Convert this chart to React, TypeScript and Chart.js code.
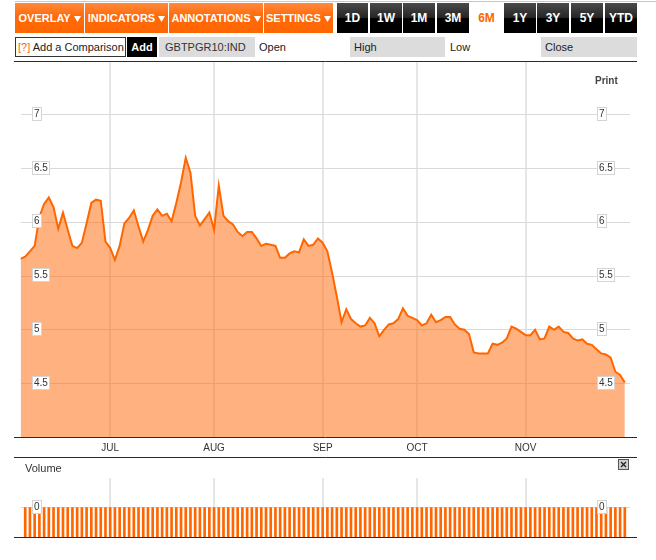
import React, { useEffect, useRef } from "react";
import { Chart, registerables } from "chart.js";

Chart.register(...registerables);

// ---- data ----
const yields: number[] = [
  5.66, 5.68, 5.73, 5.78, 6.05, 6.17, 6.23, 6.14, 5.94, 6.09,
  5.93, 5.78, 5.76, 5.81, 5.99, 6.18, 6.21, 6.2, 5.82, 5.76,
  5.65, 5.78, 5.99, 6.04, 6.11, 5.96, 5.82, 5.93, 6.06, 6.12,
  6.06, 6.08, 6.01, 6.18, 6.37, 6.6, 6.46, 6.06, 5.97, 6.03,
  6.09, 5.93, 6.34, 6.06, 6.01, 5.98, 5.91, 5.87, 5.91, 5.91,
  5.85, 5.78, 5.8, 5.79, 5.78, 5.67, 5.67, 5.71, 5.73, 5.72,
  5.84, 5.78, 5.79, 5.85, 5.81, 5.73, 5.53, 5.31, 5.07, 5.19,
  5.1, 5.06, 5.03, 5.04, 5.11, 5.06, 4.94, 5.0, 5.05, 5.06,
  5.1, 5.2, 5.13, 5.11, 5.09, 5.04, 5.06, 5.14, 5.07, 5.09,
  5.12, 5.12, 5.05, 5.01, 5.0, 4.96, 4.79, 4.78, 4.78, 4.78,
  4.87, 4.86, 4.88, 4.92, 5.03, 5.01, 4.98, 4.95, 4.95, 5.0,
  4.91, 4.92, 5.03, 5.0, 5.03, 4.98, 4.97, 4.92, 4.9, 4.91,
  4.87, 4.86, 4.82, 4.78, 4.77, 4.74, 4.61, 4.58, 4.51,
];

const volumes: (number | null)[] = [
  null, 0, 0, 0, 0, 0, 0, 0, 0, 0,
  0, 0, 0, 0, 0, 0, 0, 0, 0, 0,
  0, 0, 0, 0, 0, 0, 0, 0, 0, 0,
  0, 0, 0, 0, 0, 0, 0, 0, 0, 0,
  0, 0, 0, 0, 0, 0, 0, 0, 0, 0,
  0, 0, 0, 0, 0, 0, 0, 0, 0, 0,
  0, 0, 0, 0, 0, 0, 0, 0, 0, 0,
  0, 0, 0, 0, 0, 0, 0, 0, 0, 0,
  0, 0, 0, 0, 0, 0, 0, 0, 0, 0,
  0, 0, 0, 0, 0, 0, 0, 0, 0, 0,
  0, 0, 0, 0, 0, 0, 0, 0, 0, 0,
  0, 0, 0, 0, 0, 0, 0, 0, 0, 0,
  0, 0, 0, 0, 0, 0, 0, 0, 0,
];

const monthLabels: string[] = ["JUL", "AUG", "SEP", "OCT", "NOV"];
const monthStarts: number[] = [19, 41, 64, 84, 107];
const yTicks: number[] = [4.5, 5, 5.5, 6, 6.5, 7];
const volumeTicks: number[] = [0];

const FONT = '"Liberation Sans", Arial, Helvetica, sans-serif';
const ORANGE = "#ff6600";

const menuButtons = [
  { t: "OVERLAY", x: 15, w: 69 },
  { t: "INDICATORS", x: 85, w: 83 },
  { t: "ANNOTATIONS", x: 169, w: 94 },
  { t: "SETTINGS", x: 264, w: 69 },
];
const rangeButtons = [
  { t: "1D", x: 337, w: 31 },
  { t: "1W", x: 370, w: 32 },
  { t: "1M", x: 403, w: 32 },
  { t: "3M", x: 437, w: 32 },
  { t: "6M", x: 469, w: 35, active: true },
  { t: "1Y", x: 504, w: 32 },
  { t: "3Y", x: 537, w: 32 },
  { t: "5Y", x: 571, w: 32 },
  { t: "YTD", x: 605, w: 32 },
];

function boxLabelPlugin(id: string, values: number[]) {
  return {
    id,
    afterDatasetsDraw(chart: any) {
      const ctx = chart.ctx;
      const s = chart.scales.y;
      ctx.save();
      ctx.font = `10px ${FONT}`;
      ctx.textBaseline = "middle";
      ctx.textAlign = "left";
      for (const v of values) {
        const y = Math.round(s.getPixelForValue(v));
        const t = String(v);
        const w = Math.round(ctx.measureText(t).width + 4);
        for (const x0 of [18, 583]) {
          ctx.fillStyle = "#ffffff";
          ctx.fillRect(x0, y - 8, w, 14);
          ctx.strokeStyle = "#d4d4d4";
          ctx.lineWidth = 1;
          ctx.strokeRect(x0 + 0.5, y - 7.5, w - 1, 13);
          ctx.fillStyle = "#333333";
          ctx.fillText(t, x0 + 2, y - 1);
        }
      }
      ctx.restore();
    },
  };
}

function framePlugin(id: string, top: boolean, bottom: boolean) {
  return {
    id,
    afterDraw(chart: any) {
      const ctx = chart.ctx;
      const W = chart.width;
      ctx.save();
      ctx.strokeStyle = "#2a2a2a";
      ctx.lineWidth = 1;
      const lines: number[] = [Math.round(chart.chartArea.bottom) + 0.5];
      if (top) lines.push(0.5);
      if (bottom) lines.push(chart.height - 0.5);
      for (const y of lines) {
        ctx.beginPath();
        ctx.moveTo(0, y);
        ctx.lineTo(W, y);
        ctx.stroke();
      }
      ctx.restore();
    },
  };
}

const xMax = 129.1;

function MainChart() {
  const ref = useRef<HTMLCanvasElement | null>(null);
  useEffect(() => {
    if (!ref.current) return;
    const chart = new Chart(ref.current, {
      type: "line",
      data: {
        datasets: [
          {
            data: yields.map((y, i) => ({ x: i, y })),
            borderColor: ORANGE,
            borderWidth: 2,
            backgroundColor: "rgba(255,102,0,0.5)",
            fill: "start",
            pointRadius: 0,
            tension: 0,
          },
        ],
      },
      options: {
        responsive: false,
        animation: false,
        events: [],
        layout: { padding: { left: 6.5, right: 7, top: 0, bottom: 0 } },
        plugins: { legend: { display: false }, tooltip: { enabled: false } },
        scales: {
          x: {
            type: "linear",
            min: 0,
            max: xMax,
            afterBuildTicks: (s: any) => {
              s.ticks = monthStarts.map((v) => ({ value: v }));
            },
            afterFit: (s: any) => {
              s.height = 20.7;
            },
            ticks: {
              autoSkip: false,
              maxRotation: 0,
              padding: 5,
              color: "#333",
              font: { size: 10, family: FONT },
              callback: (_v: any, i: number) => monthLabels[i] ?? "",
            },
            grid: { color: "#e6e6e6", lineWidth: 2, drawTicks: false },
            border: { display: false },
          },
          y: {
            type: "linear",
            min: 4,
            max: 7.5,
            afterBuildTicks: (s: any) => {
              s.ticks = yTicks.map((v) => ({ value: v }));
            },
            afterFit: (s: any) => {
              s.width = 0;
            },
            ticks: { display: false },
            grid: { color: "#dadada", lineWidth: 1, drawTicks: false },
            border: { display: false },
          },
        },
      } as any,
      plugins: [boxLabelPlugin("mainBoxes", yTicks), framePlugin("mainFrame", true, true)],
    });
    return () => chart.destroy();
  }, []);
  return <canvas ref={ref} width={623} height={397} />;
}

function VolumeChart() {
  const ref = useRef<HTMLCanvasElement | null>(null);
  useEffect(() => {
    if (!ref.current) return;
    const chart = new Chart(ref.current, {
      type: "bar",
      data: {
        datasets: [
          {
            data: volumes.map((y, i) => ({ x: i, y })),
            backgroundColor: ORANGE,
            borderWidth: 0,
            barThickness: 2,
            base: -1,
          },
        ],
      },
      options: {
        responsive: false,
        animation: false,
        events: [],
        layout: { padding: { left: 6.5, right: 7, top: 20, bottom: 2 } },
        plugins: { legend: { display: false }, tooltip: { enabled: false } },
        scales: {
          x: {
            type: "linear",
            min: 0,
            max: xMax,
            offset: false,
            afterBuildTicks: (s: any) => {
              s.ticks = monthStarts.map((v) => ({ value: v }));
            },
            afterFit: (s: any) => {
              s.height = 0;
            },
            ticks: { display: false },
            grid: { color: "#e6e6e6", lineWidth: 2, drawTicks: false, offset: false },
            border: { display: false },
          },
          y: {
            type: "linear",
            min: -1,
            max: 1,
            afterBuildTicks: (s: any) => {
              s.ticks = volumeTicks.map((v) => ({ value: v }));
            },
            afterFit: (s: any) => {
              s.width = 0;
            },
            ticks: { display: false },
            grid: { color: "#dadada", lineWidth: 1, drawTicks: false },
            border: { display: false },
          },
        },
      } as any,
      plugins: [boxLabelPlugin("volBoxes", volumeTicks), framePlugin("volFrame", false, false)],
    });
    return () => chart.destroy();
  }, []);
  return <canvas ref={ref} width={623} height={81} />;
}

const abs = (x: number, y: number, w: number, h: number): React.CSSProperties => ({
  position: "absolute",
  left: x,
  top: y,
  width: w,
  height: h,
  boxSizing: "border-box",
});

export default function App() {
  return (
    <div
      style={{
        position: "fixed",
        left: 0,
        top: 0,
        width: 656,
        height: 560,
        background: "#fff",
        fontFamily: FONT,
        overflow: "hidden",
      }}
    >
      <div style={{ ...abs(15, 1, 641, 1), background: "#c8c8c8" }} />
      {menuButtons.map((b) => (
        <div
          key={b.t}
          style={{
            ...abs(b.x, 3, b.w, 30),
            background: "linear-gradient(#ff8a3d 0%, #ff6a0a 45%, #ff6600 100%)",
            color: "#fff",
            fontWeight: "bold",
            fontSize: 11,
            lineHeight: "30px",
            textAlign: "center",
            whiteSpace: "nowrap",
          }}
        >
          {b.t}{" "}
          <svg width={7} height={6} style={{ verticalAlign: "0px" }}>
            <path d="M0 0 L7 0 L3.5 6 Z" fill="#fff" />
          </svg>
        </div>
      ))}
      {rangeButtons.map((b) => (
        <div
          key={b.t}
          style={{
            ...abs(b.x, 3, b.w, 30),
            background: b.active
              ? "#fff"
              : "linear-gradient(#4a4a4a 0%, #262626 48%, #000 52%, #000 100%)",
            color: b.active ? ORANGE : "#fff",
            fontWeight: "bold",
            fontSize: 12,
            lineHeight: "30px",
            textAlign: "center",
          }}
        >
          {b.t}
        </div>
      ))}

      <div
        style={{
          ...abs(15, 37, 111, 20),
          border: "1px solid #333",
          fontSize: 11,
          lineHeight: "18px",
          color: "#222",
          whiteSpace: "nowrap",
          paddingLeft: 2,
        }}
      >
        <span style={{ color: ORANGE }}>[?]</span> Add a Comparison
      </div>
      <div
        style={{
          ...abs(127, 37, 30, 20),
          background: "#000",
          color: "#fff",
          fontWeight: "bold",
          fontSize: 11,
          lineHeight: "20px",
          textAlign: "center",
        }}
      >
        Add
      </div>
      <div style={{ ...abs(159, 37, 96, 20), background: "#dcdcdc", fontSize: 11, lineHeight: "20px", color: "#333", paddingLeft: 6 }}>
        GBTPGR10:IND
      </div>
      <div style={{ ...abs(255, 37, 95, 20), fontSize: 11, lineHeight: "20px", color: "#222", paddingLeft: 4 }}>Open</div>
      <div style={{ ...abs(350, 37, 95, 20), background: "#dcdcdc", fontSize: 11, lineHeight: "20px", color: "#222", paddingLeft: 4 }}>
        High
      </div>
      <div style={{ ...abs(445, 37, 96, 20), fontSize: 11, lineHeight: "20px", color: "#222", paddingLeft: 5 }}>Low</div>
      <div style={{ ...abs(541, 37, 96, 20), background: "#dcdcdc", fontSize: 11, lineHeight: "20px", color: "#222", paddingLeft: 4 }}>
        Close
      </div>

      <div style={{ position: "absolute", left: 14, top: 61, width: 623, height: 397 }}>
        <MainChart />
      </div>
      <div style={{ position: "absolute", left: 595, top: 75, fontSize: 10, fontWeight: "bold", color: "#444" }}>Print</div>

      <div style={{ position: "absolute", left: 14, top: 458, width: 623, height: 81 }}>
        <VolumeChart />
      </div>
      <div style={{ position: "absolute", left: 25, top: 462, fontSize: 11, color: "#333" }}>Volume</div>
      <svg style={{ position: "absolute", left: 618, top: 459 }} width={11} height={11}>
        <rect x={0.5} y={0.5} width={10} height={10} fill="#cfcfcf" stroke="#555" />
        <path d="M3 3 L8 8 M8 3 L3 8" stroke="#222" strokeWidth={1.2} />
      </svg>
    </div>
  );
}
